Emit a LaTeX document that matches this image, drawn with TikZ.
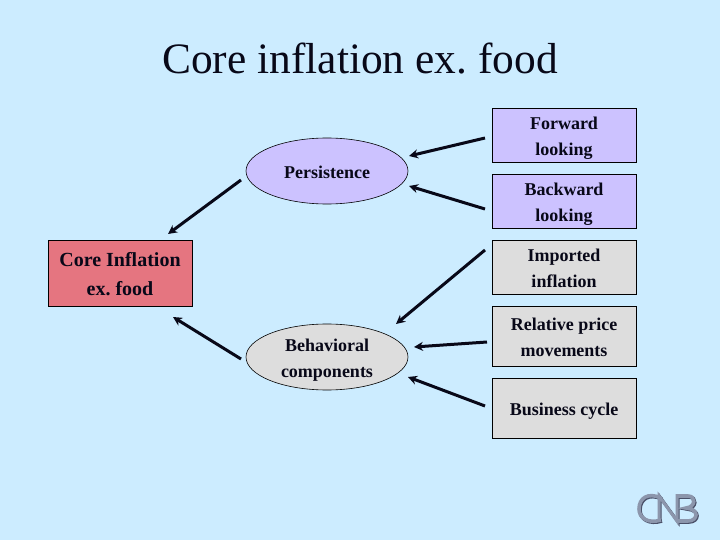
\documentclass[tikz,border=0pt]{standalone}
\usepackage{fontspec}
\setmainfont{Liberation Serif}
\frenchspacing
\usetikzlibrary{shapes.geometric,arrows.meta}
\definecolor{bgc}{HTML}{CCECFF}
\definecolor{lav}{HTML}{CCC2FF}
\definecolor{gry}{HTML}{DDDDDD}
\definecolor{redb}{HTML}{E57580}
\definecolor{logoc}{HTML}{8C96AC}
\definecolor{logod}{HTML}{4A5068}
\definecolor{ink}{HTML}{080818}
\tikzset{
  x=1pt,y=-1pt,
  txt/.style={align=center,inner sep=0pt,text=ink,font=\bfseries\fontsize{18}{26}\selectfont,yshift=-3pt},
  txtb/.style={txt,yshift=2pt},
  boxn/.style={draw=black,line width=0.7pt,minimum width=144pt,inner sep=0pt,label={[txt]center:{#1}}},
  boxm/.style={draw=black,line width=0.7pt,minimum width=144pt,inner sep=0pt,label={[txtb]center:{#1}}},
  ell/.style={ellipse,draw=black,line width=0.6pt,minimum width=162pt,minimum height=66pt,inner sep=0pt},
  arr/.style={line width=3pt,draw=ink,-{Stealth[length=9pt,width=9pt]}},
  logos/.style={line width=3.6pt,line join=miter}
}
\newcommand{\cnblogo}[1]{%
\draw[logos,color=#1] (661,498) .. controls (648,492) and (639,498) .. (639,509) .. controls (639,518) and (648,524) .. (661,520);
\draw[logos,color=#1,line width=3pt] (659,521) -- (659,496) -- (677,521) -- (677,494);
\draw[logos,color=#1] (677,496) -- (688,496) .. controls (696,496) and (696,507) .. (686,508) .. controls (700,509) and (698,521) .. (688,521) -- (677,521);
}
\begin{document}
\begin{tikzpicture}
\useasboundingbox (0,0) rectangle (720,540);
\fill[bgc] (0,0) rectangle (720,540);
\node[font=\fontsize{43.4}{50}\selectfont,text=ink] (title) at (360,59) {Core inflation ex. food};
\node[boxn={Forward\\looking},fill=lav,minimum height=54pt] (fw) at (564,135) {};
\node[boxn={Backward\\looking},fill=lav,minimum height=54pt] (bw) at (564,201) {};
\node[boxm={Imported\\inflation},fill=gry,minimum height=54pt] (im) at (564,267) {};
\node[boxm={Relative price\\movements},fill=gry,minimum height=60pt] (re) at (564,336) {};
\node[boxn={Business cycle},fill=gry,minimum height=60pt] (bu) at (564,408) {};
\node[draw=black,line width=0.7pt,minimum width=144pt,minimum height=66pt,inner sep=0pt,fill=redb,label={[align=center,inner sep=0pt,text=ink,font=\bfseries\fontsize{20}{29}\selectfont,yshift=-1pt]center:{Core Inflation\\ex. food}}] (co) at (120,273) {};
\node[ell,fill=lav] (pe) at (327,171) {};
\node[txt,yshift=3pt] (pet) at (327,172) {Persistence};
\node[ell,fill=gry,label={[txt]center:{Behavioral\\components}}] (be) at (327,357) {};
\coordinate (a1s) at (485,138); \coordinate (a1e) at (409,156);
\coordinate (a2s) at (485,209); \coordinate (a2e) at (409,186);
\coordinate (a3s) at (485,250); \coordinate (a3e) at (396,324);
\coordinate (a4s) at (487,342); \coordinate (a4e) at (414,347);
\coordinate (a5s) at (485,406); \coordinate (a5e) at (408,377);
\coordinate (a6s) at (241,180); \coordinate (a6e) at (168,234);
\coordinate (a7s) at (241,359); \coordinate (a7e) at (173,317);
\foreach \i in {1,...,7}{\draw[arr] (a\i s) -- (a\i e);}
\begin{scope}[shift={(1,1)}]\cnblogo{logod}\end{scope}
\cnblogo{logoc}
\end{tikzpicture}
\end{document}
